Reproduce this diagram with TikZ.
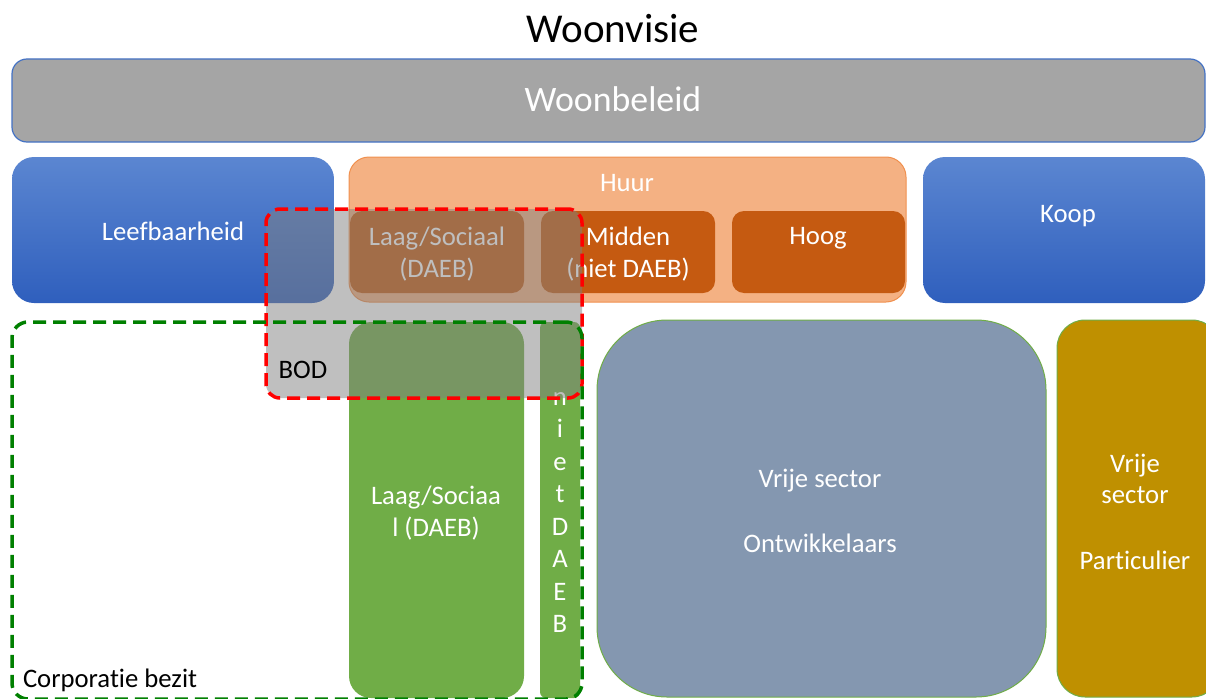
\documentclass[tikz,border=0pt]{standalone}
\usepackage{fontspec}
\setmainfont{Carlito}[Ligatures=NoCommon]
\definecolor{beleidgray}{HTML}{A5A5A5}
\definecolor{accblue}{HTML}{4472C4}
\definecolor{bluetop}{HTML}{5B86D1}
\definecolor{bluebot}{HTML}{2F5FBD}
\definecolor{huurlight}{HTML}{F4B183}
\definecolor{huurline}{HTML}{F0904E}
\definecolor{huurdark}{HTML}{C55A11}
\definecolor{sgreen}{HTML}{70AD47}
\definecolor{vblue}{HTML}{8497B0}
\definecolor{vgold}{HTML}{BF9000}
\definecolor{dgreen}{HTML}{008000}
\definecolor{overlaygray}{HTML}{808080}
\definecolor{dred}{HTML}{FF0000}
\begin{document}
\begin{tikzpicture}[x=1pt,y=-1pt,
  box/.style={rectangle, inner sep=0pt, outer sep=0pt},
  bluebox/.style={box, rounded corners=22pt, top color=bluetop, bottom color=bluebot},
  darkorange/.style={box, rounded corners=12pt, fill=huurdark},
  greenbox/.style={box, fill=sgreen},
  dashline/.style={line width=3.5pt, dash pattern=on 13pt off 7pt},
  lbl/.style={inner sep=0pt, outer sep=0pt, anchor=base, text=white, font=\fontsize{26.7}{32}\selectfont},
  blk/.style={lbl, text=black}
]
\useasboundingbox (0,0) rectangle (1206,698);
\clip (0,0) rectangle (1206,698);

% top bar
\node[box, rounded corners=15pt, fill=beleidgray, draw=accblue, line width=1.2pt,
      minimum width=1193pt, minimum height=83pt] (beleid) at (608.5,100.5) {};

% second row
\node[bluebox, minimum width=322pt, minimum height=146pt] (leef) at (173,230) {};
\node[box, rounded corners=20pt, fill=huurlight, draw=huurline, line width=1pt,
      minimum width=557pt, minimum height=145pt] (huur) at (627.5,229.5) {};
\node[darkorange, minimum width=174pt, minimum height=82pt] (laagh) at (437,252) {};
\node[darkorange, minimum width=174pt, minimum height=82pt] (midden) at (628,252) {};
\node[darkorange, minimum width=173pt, minimum height=82pt] (hoog) at (818.5,252) {};
\node[bluebox, minimum width=282pt, minimum height=146pt] (koop) at (1064,230) {};

% third row
\node[greenbox, rounded corners=22pt, minimum width=175pt, minimum height=376pt] (laagg) at (436.5,510) {};
\node[greenbox, rounded corners=6pt, minimum width=40pt, minimum height=376pt] (niet) at (560,510) {};
\node[box, rounded corners=70pt, fill=vblue, draw=sgreen, line width=1pt,
      minimum width=449pt, minimum height=377pt] (ontw) at (821.5,508.5) {};
\node[box, rounded corners=28pt, fill=vgold, draw=sgreen, line width=1pt,
      minimum width=163pt, minimum height=377pt] (part) at (1138.5,508.5) {};

% labels under the overlay
\node[lbl] (tleef) at (173,240) {Leefbaarheid};
\node[lbl] (thuur) at (627,191) {Huur};
\node[lbl] (tlaagh1) at (437,245) {Laag/Sociaal};
\node[lbl] (tlaagh2) at (437,277) {(DAEB)};
\node[lbl] (tmid1) at (628,245) {Midden};
\node[lbl] (tmid2) at (628,277) {(niet DAEB)};
\node[lbl] (thoog) at (818,244) {Hoog};
\node[lbl] (tkoop) at (1068,222) {Koop};
\node[lbl] (tlaagg1) at (436,504) {Laag/Sociaa};
\node[lbl] (tlaagg2) at (436,536) {l (DAEB)};
\foreach \ch [count=\i] in {n,i,e,t,D,A,E,B}
  \node[lbl] (tniet\i) at (560,{372.5+32.5*\i}) {\ch};
\node[lbl] (tontw1) at (820,487) {Vrije sector};
\node[lbl] (tontw2) at (820,552) {Ontwikkelaars};
\node[lbl] (tpart1) at (1135,472) {Vrije};
\node[lbl] (tpart2) at (1135,503) {sector};
\node[lbl] (tpart3) at (1135,569) {Particulier};

% BOD overlay
\node[box, rounded corners=14pt, fill=overlaygray, fill opacity=0.5, draw=dred, dashline,
      minimum width=316pt, minimum height=189pt] (bod) at (424,303.5) {};

% corporatie bezit
\node[box, rounded corners=16pt, draw=dgreen, dashline,
      minimum width=570pt, minimum height=377pt] (corp) at (297,510.5) {};

% black and title labels
\node[blk] (tbod) at (303,378) {BOD};
\node[blk, anchor=base west] (tcorp) at (23,687) {Corporatie bezit};
\node[blk, font=\fontsize{41}{48}\selectfont] (title) at (613,43) {Woonvisie};
\node[lbl, font=\fontsize{35.8}{42}\selectfont] (tbeleid) at (613,112) {Woonbeleid};
\end{tikzpicture}
\end{document}
